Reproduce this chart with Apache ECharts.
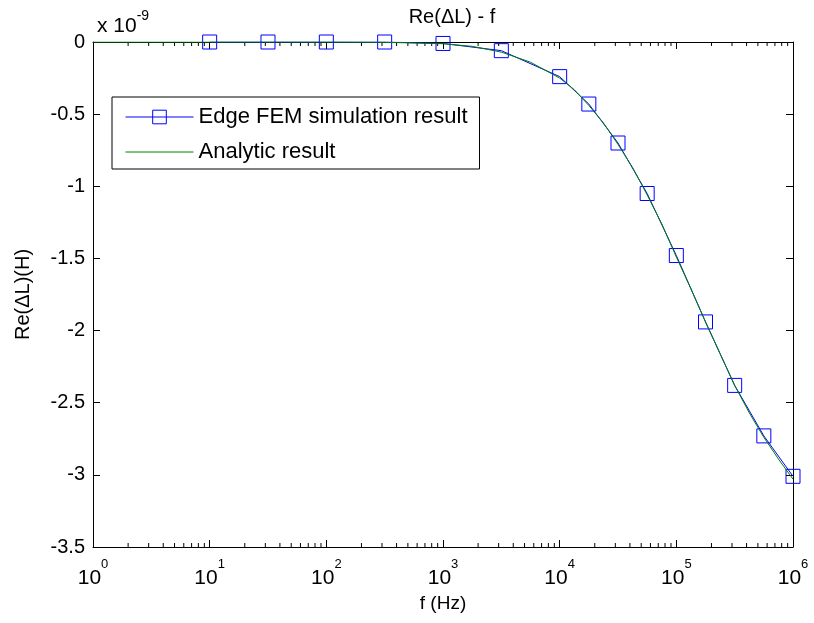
<!DOCTYPE html>
<html>
<head>
<meta charset="utf-8">
<script src="https://cdn.jsdelivr.net/npm/echarts@6/dist/echarts.min.js"></script>
<style>
html, body { margin: 0; padding: 0; background: #fff; }
#chart { width: 814px; height: 623px; }
</style>
</head>
<body>
<div id="chart"></div>
<script>
// FEM simulation points (Hz, Re(dL) in 1e-9 H)
var femFreq = [10, 31.62, 100, 316.2, 1000, 3162, 10000, 17783, 31623, 56234, 100000, 177828, 316228, 562341, 1000000];
var femRe = [0, 0, 0, 0, -0.01, -0.06, -0.24, -0.43, -0.70, -1.05, -1.48, -1.94, -2.38, -2.73, -3.01];

// analytic curve
var anaFreq = [1, 3.162, 10, 31.62, 100, 316.2, 1000, 1778, 3162, 5623, 10000, 13335, 17783, 23714, 31623, 42170, 56234, 74989, 100000, 133352, 177828, 237137, 316228, 421697, 562341, 749894, 1000000];
var anaRe = [0, 0, 0, 0, 0, -0.002, -0.012, -0.03, -0.07, -0.14, -0.25, -0.33, -0.44, -0.56, -0.71, -0.87, -1.06, -1.26, -1.49, -1.71, -1.94, -2.16, -2.38, -2.57, -2.74, -2.89, -3.03];

var yMin = -3.5, yMax = 0, yStep = 0.5;
var xMin = 1, xMax = 1000000;
var minorMult = [2, 3, 4, 5, 6, 7, 8, 9];
var decades = [1, 10, 100, 1000, 10000, 100000];

var minorTicks = [];
decades.forEach(function (d) {
    minorMult.forEach(function (m) { minorTicks.push([d * m, 0]); });
});

function zip(a, b) {
    return a.map(function (v, i) { return [v, b[i]]; });
}

var FONT = 'Liberation Sans, Arial, Helvetica, sans-serif';

var chart = echarts.init(document.getElementById('chart'));

var tickStyle = { show: true, inside: true, length: 7, lineStyle: { color: '#000', width: 1 } };
var lineStyle = { show: true, onZero: false, lineStyle: { color: '#000', width: 1 } };

chart.setOption({
    animation: false,
    backgroundColor: '#fff',
    title: [
        {
            text: 'Re(ΔL) - f',
            left: 447, top: 2, textAlign: 'center',
            textStyle: { fontFamily: FONT, fontSize: 20, fontWeight: 'normal', color: '#000' }
        },
        {
            text: '{a|x 10}{b|-9}',
            left: 92, top: 4,
            textStyle: {
                fontFamily: FONT, fontWeight: 'normal', color: '#000',
                rich: {
                    a: { fontFamily: FONT, fontWeight: 'normal', fontSize: 21, lineHeight: 28, verticalAlign: 'bottom', color: '#000' },
                    b: { fontFamily: FONT, fontWeight: 'normal', fontSize: 14, lineHeight: 14, verticalAlign: 'top', color: '#000' }
                }
            }
        }
    ],
    legend: {
        orient: 'vertical',
        left: 112, top: 97,
        padding: [9, 12, 6, 13],
        itemWidth: 68, itemHeight: 17, itemGap: 13,
        backgroundColor: '#fff',
        borderColor: '#000', borderWidth: 1,
        textStyle: { fontFamily: FONT, fontSize: 22, lineHeight: 22, color: '#000' },
        data: [
            { name: 'Edge FEM simulation result', itemStyle: { borderWidth: 1 }, lineStyle: { width: 1 } },
            { name: 'Analytic result', itemStyle: { opacity: 0 }, lineStyle: { width: 1, opacity: 1 } }
        ]
    },
    grid: { left: 93, right: 21, top: 42, bottom: 76, containLabel: false },
    xAxis: [
        {
            type: 'log', logBase: 10, min: xMin, max: xMax, splitNumber: 6,
            position: 'bottom',
            name: 'f (Hz)', nameLocation: 'middle', nameGap: 46,
            nameTextStyle: { fontFamily: FONT, fontSize: 19, color: '#000' },
            axisLine: lineStyle, axisTick: tickStyle, splitLine: { show: false },
            axisLabel: {
                margin: 11, color: '#000',
                formatter: function (v) {
                    return '{b|10}{s|' + Math.round(Math.log10(v)) + '}';
                },
                rich: {
                    b: { fontFamily: FONT, fontSize: 21, lineHeight: 31, verticalAlign: 'bottom', color: '#000' },
                    s: { fontFamily: FONT, fontSize: 13, lineHeight: 13, verticalAlign: 'top', color: '#000' }
                }
            }
        },
        {
            type: 'log', logBase: 10, min: xMin, max: xMax, splitNumber: 6,
            position: 'top',
            axisLine: lineStyle, axisTick: tickStyle, splitLine: { show: false },
            axisLabel: { show: false }
        }
    ],
    yAxis: [
        {
            type: 'value', min: yMin, max: yMax, interval: yStep,
            position: 'left',
            name: 'Re(ΔL)(H)', nameLocation: 'middle', nameGap: 60,
            nameTextStyle: { fontFamily: FONT, fontSize: 20, color: '#000' },
            axisLine: lineStyle, axisTick: tickStyle, splitLine: { show: false },
            axisLabel: { margin: 8, fontFamily: FONT, fontSize: 20, color: '#000' }
        },
        {
            type: 'value', min: yMin, max: yMax, interval: yStep,
            position: 'right',
            axisLine: lineStyle, axisTick: tickStyle, splitLine: { show: false },
            axisLabel: { show: false }
        }
    ],
    series: [
        {
            type: 'custom',
            silent: true,
            xAxisIndex: 0, yAxisIndex: 0,
            encode: { x: 0, y: 1 },
            data: minorTicks,
            renderItem: function (params, api) {
                var f = api.value(0);
                var t = api.coord([f, yMax]);
                var b = api.coord([f, yMin]);
                var st = { stroke: '#000', lineWidth: 1 };
                return {
                    type: 'group',
                    children: [
                        { type: 'line', shape: { x1: t[0], y1: t[1], x2: t[0], y2: t[1] + 4 }, style: st },
                        { type: 'line', shape: { x1: b[0], y1: b[1], x2: b[0], y2: b[1] - 4 }, style: st }
                    ]
                };
            }
        },
        {
            name: 'Edge FEM simulation result',
            type: 'line',
            xAxisIndex: 0, yAxisIndex: 0,
            data: zip(femFreq, femRe),
            symbol: 'rect', symbolSize: 14,
            showAllSymbol: true,
            lineStyle: { color: '#0000ff', width: 1 },
            itemStyle: { color: 'rgba(0,0,0,0)', borderColor: '#0000ff', borderWidth: 1 },
            z: 3
        },
        {
            name: 'Analytic result',
            type: 'line',
            xAxisIndex: 0, yAxisIndex: 0,
            data: zip(anaFreq, anaRe),
            symbol: 'none',
            lineStyle: { color: '#008000', width: 1 },
            itemStyle: { color: '#008000' },
            z: 4
        }
    ]
});
</script>
</body>
</html>
